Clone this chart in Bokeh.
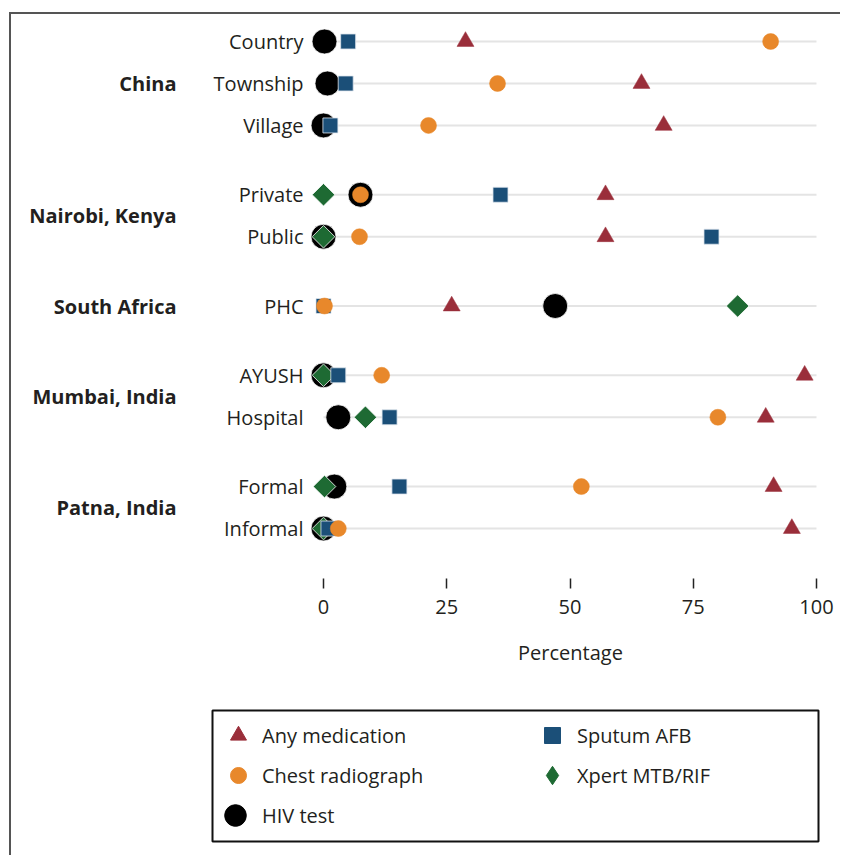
import math
from bokeh.plotting import figure
from bokeh.layouts import column
from bokeh.models import (ColumnDataSource, Range1d, Legend, LegendItem, FixedTicker, LinearAxis)
from bokeh.embed import file_html
from bokeh.resources import INLINE

# ---- data ----
groups = ["China", "China", "China", "Nairobi, Kenya", "Nairobi, Kenya", "South Africa",
          "Mumbai, India", "Mumbai, India", "Patna, India", "Patna, India"]
settings = ["Country", "Township", "Village", "Private", "Public", "PHC",
            "AYUSH", "Hospital", "Formal", "Informal"]
NaN = float("nan")
any_medication = [28.8, 64.5, 69.0, 57.2, 57.2, 26.0, 97.6, 89.7, 91.3, 95.0]
chest_radiograph = [90.7, 35.3, 21.3, 7.5, 7.3, 0.2, 11.8, 80.0, 52.3, 3.0]
hiv_test = [0.2, 0.8, 0.0, 7.5, 0.0, 47.0, 0.0, 3.0, 2.2, 0.0]
sputum_afb = [5.0, 4.5, 1.4, 35.9, 78.7, 0.0, 3.0, 13.4, 15.4, 1.0]
xpert = [NaN, NaN, NaN, 0.0, 0.0, 84.0, 0.0, 8.5, 0.2, 0.0]
x_ticks = [0, 25, 50, 75, 100]

FONT = "Open Sans"
TXT = "#231f20"
C_MED, C_CHEST, C_HIV, C_SPUT, C_XPERT = "#9a2e3a", "#e8882b", "#000000", "#1b4f78", "#1e6a33"

# ---- row layout: rows 100 apart inside a group, extra 65 between groups ----
ROW, GAP = 100, 65
ypos, prev, cur = [], None, 0
for g in groups:
    if prev is not None:
        cur -= ROW + (GAP if g != prev else 0)
    ypos.append(cur)
    prev = g
group_names = list(dict.fromkeys(groups))
group_pos = []
for g in group_names:
    ys = [y for y, gg in zip(ypos, groups) if gg == g]
    group_pos.append(int(round(sum(ys) / len(ys))))

src = ColumnDataSource(dict(y=ypos, med=any_medication, chest=chest_radiograph,
                            hiv=hiv_test, sputum=sputum_afb, xpert=xpert,
                            x0=[0] * len(ypos), x1=[100] * len(ypos)))

p = figure(width=829, height=690, x_range=Range1d(-2.64, 102.84),
           y_range=Range1d(ypos[-1] - 119, ypos[0] + 50),
           output_backend="svg", toolbar_location=None, y_axis_location=None,
           min_border_left=299, min_border_right=10, min_border_top=6, min_border_bottom=126)
p.frame_align = False
p.outline_line_color = None
p.xgrid.grid_line_color = None
p.ygrid.grid_line_color = None

# row guide lines
p.segment(x0="x0", x1="x1", y0="y", y1="y", source=src, line_color="#e4e4e4", line_width=2)

r_hiv = p.scatter(x="hiv", y="y", source=src, marker="circle", size=25,
                  fill_color=C_HIV, line_color="white", line_width=0.8)
r_xpert = p.scatter(x="xpert", y="y", source=src, marker="square", size=16, angle=math.pi / 4,
                    fill_color=C_XPERT, line_color="white", line_width=0.8)
r_sputum = p.scatter(x="sputum", y="y", source=src, marker="square", size=15,
                     fill_color=C_SPUT, line_color="#dfe6ee", line_width=0.8)
r_chest = p.scatter(x="chest", y="y", source=src, marker="circle", size=16,
                    fill_color=C_CHEST, line_color=C_CHEST, line_width=0.5)
r_med = p.scatter(x="med", y="y", source=src, marker="triangle", size=17,
                  fill_color=C_MED, line_color=C_MED, line_width=0.5)

# x axis
xa = p.xaxis[0]
xa.ticker = FixedTicker(ticks=x_ticks)
xa.axis_line_color = None
xa.minor_tick_line_color = None
xa.major_tick_in = 0
xa.major_tick_out = 10
xa.major_tick_line_color = "#222222"
xa.major_tick_line_width = 1.5
xa.major_label_standoff = 11
xa.major_label_text_font = FONT
xa.major_label_text_font_size = "20px"
xa.major_label_text_color = TXT
xa.axis_label = "Percentage"
xa.axis_label_text_font = FONT
xa.axis_label_text_font_size = "20px"
xa.axis_label_text_font_style = "normal"
xa.axis_label_text_color = TXT
xa.axis_label_standoff = 22

# y axes: settings (near) and groups (outer)
def y_axis(ticks, labels, standoff, bold):
    ax = LinearAxis(ticker=FixedTicker(ticks=ticks),
                    major_label_overrides={t: l for t, l in zip(ticks, labels)})
    ax.axis_line_color = None
    ax.major_tick_line_color = None
    ax.minor_tick_line_color = None
    ax.major_tick_in = 0
    ax.major_tick_out = 0
    ax.major_label_standoff = standoff
    ax.major_label_text_font = FONT
    ax.major_label_text_font_size = "20px"
    ax.major_label_text_font_style = "bold" if bold else "normal"
    ax.major_label_text_color = TXT
    return ax

p.add_layout(y_axis(ypos, settings, 7, False), "left")
p.add_layout(y_axis(group_pos, group_names, 34, True), "left")

# ---- legend panel ----
q = figure(width=829, height=151, x_range=Range1d(0, 1), y_range=Range1d(0, 1),
           output_backend="svg", toolbar_location=None,
           x_axis_location=None, y_axis_location=None,
           min_border_left=201, min_border_right=22, min_border_top=6, min_border_bottom=14)
q.frame_align = False
q.xgrid.grid_line_color = None
q.ygrid.grid_line_color = None
q.outline_line_color = "#111111"
q.outline_line_width = 2

nan_src = ColumnDataSource(dict(x=[NaN], y=[NaN]))
l_med = q.scatter("x", "y", source=nan_src, marker="triangle", fill_color=C_MED, line_color=C_MED)
l_chest = q.scatter("x", "y", source=nan_src, marker="circle", fill_color=C_CHEST, line_color=C_CHEST)
l_hiv = q.scatter("x", "y", source=nan_src, marker="circle", fill_color=C_HIV, line_color=C_HIV)
l_sput = q.scatter("x", "y", source=nan_src, marker="square", fill_color=C_SPUT, line_color=C_SPUT)
l_xpert = q.scatter("x", "y", source=nan_src, marker="diamond", fill_color=C_XPERT, line_color=C_XPERT)

def make_leg(items, loc, gw, gh, standoff):
    leg = Legend(items=[LegendItem(label=t, renderers=[r]) for t, r in items], location=loc)
    leg.glyph_width = gw
    leg.glyph_height = gh
    leg.spacing = 0
    leg.padding = 0
    leg.margin = 0
    leg.label_standoff = standoff
    leg.label_height = gh
    leg.label_text_font = FONT
    leg.label_text_font_size = "20px"
    leg.label_text_color = TXT
    leg.border_line_alpha = 0
    leg.background_fill_alpha = 0
    q.add_layout(leg, "center")

make_leg([("Any medication", l_med), ("Chest radiograph", l_chest)], (6, 46), 40, 40, 4)
make_leg([("HIV test", l_hiv)], (-4, -4), 54, 60, 0)
make_leg([("Sputum AFB", l_sput)], (320, 86), 40, 40, 5)
make_leg([("Xpert MTB/RIF", l_xpert)], (317, 41), 46, 50, 2)

page = column(p, q, margin=(12, 0, 0, 9),
              styles={"border-left": "2px solid #555555", "border-top": "2px solid #555555"})

open("out.html", "w").write(file_html(page, INLINE))
